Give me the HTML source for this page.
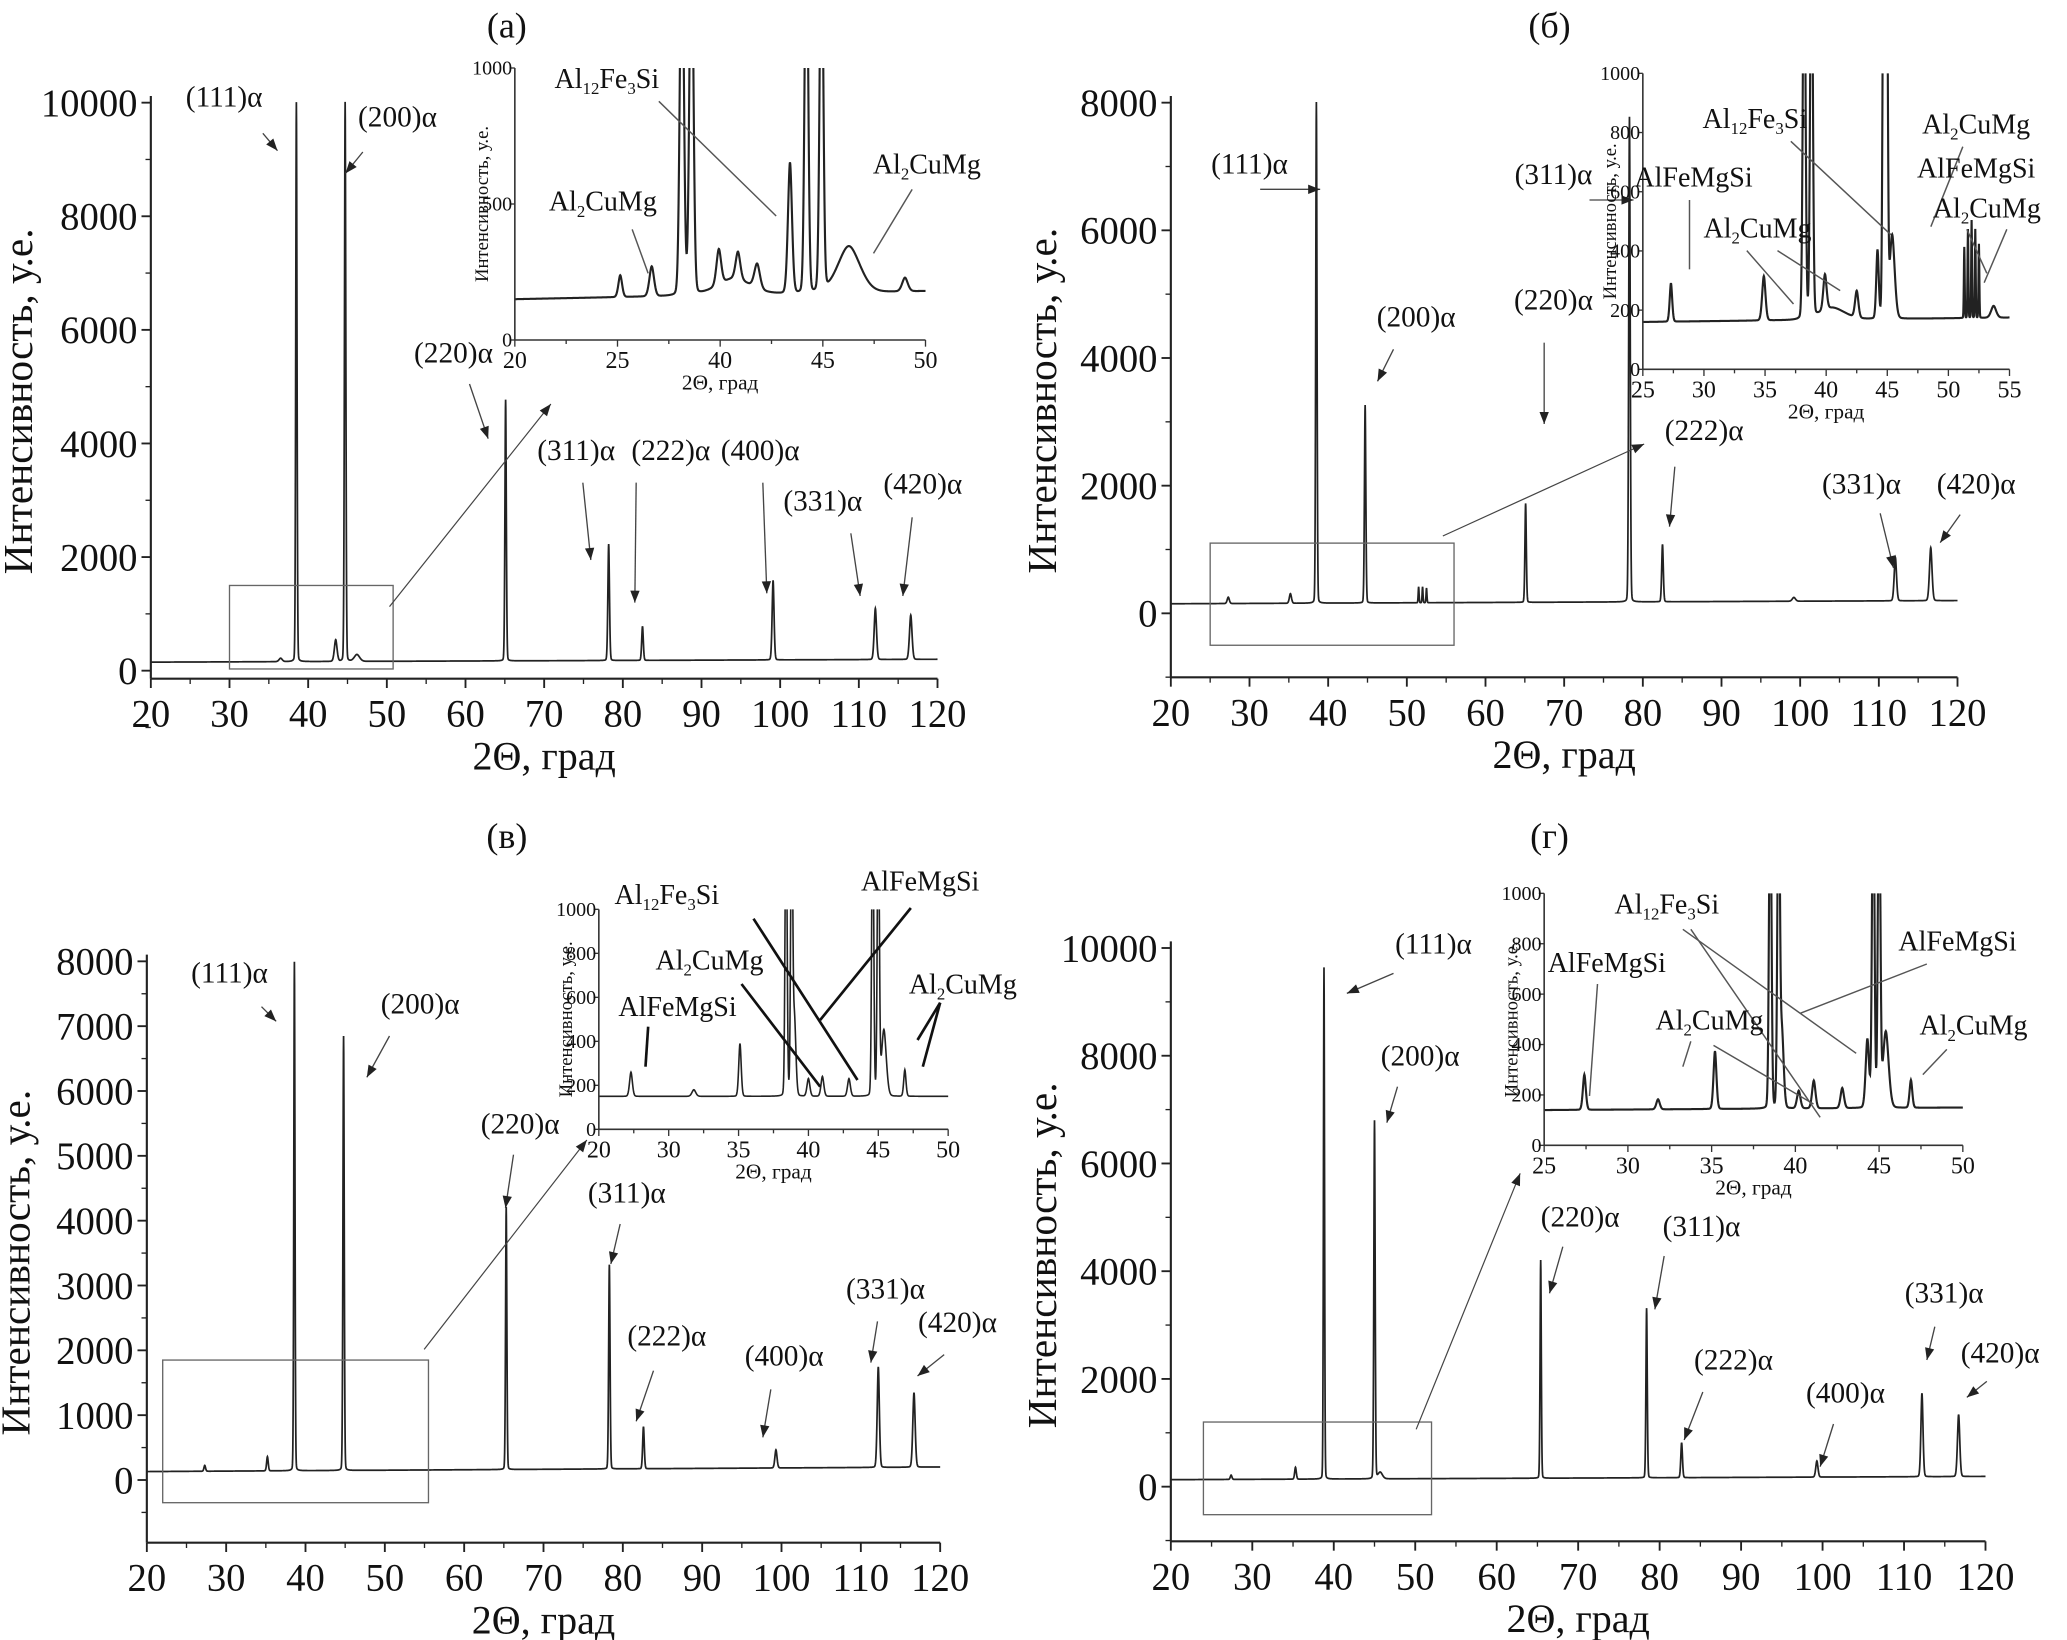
<!DOCTYPE html>
<html><head><meta charset="utf-8"><style>
html,body{margin:0;padding:0;background:#fff;}
svg{display:block;}
text{font-family:"Liberation Serif","DejaVu Serif","Times New Roman",serif;fill:#111;}
</style></head><body>
<svg id="fig" xmlns="http://www.w3.org/2000/svg" width="2067" height="1640" viewBox="0 0 1550 1230">
<rect x="0" y="0" width="1550" height="1230" fill="#fff"/>
</svg>
<script>
// ---------- data ----------
const peaksA = [[38.5,9850,0.12],[44.7,9850,0.13],[43.5,380,0.25],[65.1,4600,0.13],[78.2,2050,0.15],[82.5,600,0.15],[99.1,1400,0.18],[112.1,900,0.22],[116.6,780,0.24],[36.5,60,0.3],[46.2,120,0.5]];
const peaksB = [[27.3,100,0.2],[35.2,150,0.2],[38.5,7850,0.12],[44.7,3100,0.13],[51.5,250,0.08],[52.0,250,0.08],[52.5,230,0.08],[65.1,1550,0.13],[78.3,7600,0.14],[82.5,900,0.15],[99.2,60,0.3],[112.1,680,0.22],[116.6,830,0.24]];
const peaksC = [[27.3,90,0.15],[35.2,220,0.15],[38.6,7850,0.11],[44.8,6700,0.12],[65.3,4050,0.12],[78.3,3150,0.13],[82.6,650,0.15],[99.3,280,0.2],[112.2,1550,0.2],[116.7,1150,0.22]];
const peaksD = [[27.4,80,0.15],[35.3,220,0.15],[38.8,9500,0.1],[45.0,6650,0.12],[45.7,120,0.4],[65.4,4050,0.11],[78.4,3150,0.12],[82.7,650,0.15],[99.3,300,0.2],[112.2,1550,0.19],[116.7,1150,0.21]];
const baseA = [150,200]; const baseB=[150,200]; const baseC=[130,200]; const baseD=[130,190];
const insetPeaksA = [[27.7,80,0.2],[30.0,110,0.25],[32.2,1500,0.2],[32.9,1500,0.2],[34.9,130,0.25],[36.3,100,0.25],[37.7,90,0.3],[36.0,60,1.8],[40.1,480,0.22],[41.3,1500,0.18],[42.4,1500,0.18],[44.4,170,1.2],[48.5,50,0.3]];
const insetBaseA = [150,180];
const insetPeaksB = [[27.3,130,0.15],[34.9,150,0.2],[38.2,1500,0.15],[38.8,1500,0.15],[39.9,120,0.2],[42.5,90,0.2],[40.5,40,1.5],[44.2,230,0.15],[44.7,1500,0.12],[44.95,1500,0.12],[45.4,280,0.3],[51.3,240,0.05],[51.6,300,0.05],[51.9,330,0.05],[52.2,300,0.05],[52.5,250,0.05],[53.7,40,0.3]];
const insetBaseB = [160,175];
const insetPeaksC = [[27.3,110,0.15],[31.8,30,0.2],[35.1,240,0.13],[38.4,1500,0.1],[38.8,1500,0.1],[39.0,350,0.15],[40.0,80,0.15],[41.0,90,0.15],[42.9,80,0.15],[44.6,1500,0.1],[45.0,1500,0.1],[45.4,300,0.25],[46.9,120,0.12]];
const insetBaseC = [150,150];
const insetPeaksD = [[27.4,140,0.13],[31.8,40,0.15],[35.2,230,0.13],[38.5,1500,0.1],[39.0,1500,0.1],[39.2,300,0.15],[40.2,70,0.15],[41.1,110,0.15],[42.8,80,0.15],[44.3,270,0.15],[44.65,1500,0.1],[45.0,1500,0.1],[45.4,300,0.25],[46.9,110,0.12]];
const insetBaseD = [140,150];
const xTicksMain = ["20","30","40","50","60","70","80","90","100","110","120"];
const yTicksA = ["0","2000","4000","6000","8000","10000"];
const yTicksB = ["0","2000","4000","6000","8000"];
const yTicksC = ["0","1000","2000","3000","4000","5000","6000","7000","8000"];
const yTicksD = ["0","2000","4000","6000","8000","10000"];
const insetXA = ["20","25","40","45","50"];
const insetXB = ["25","30","35","40","45","50","55"];
const insetXC = ["20","30","35","40","45","50"];
const insetXD = ["25","30","35","40","45","50"];
const insetYA = ["0","500","1000"];
const insetYB = ["0","200","400","600","800","1000"];

// ---------- helpers ----------
const FF='Liberation Serif, DejaVu Serif, serif';
const NS="http://www.w3.org/2000/svg";
const fig=document.getElementById('fig');
function el(tag,attrs,parent){const e=document.createElementNS(NS,tag);for(const k in attrs)e.setAttribute(k,attrs[k]);(parent||fig).appendChild(e);return e;}
function scale(d0,d1,r0,r1){return v=>r0+(v-d0)/(d1-d0)*(r1-r0);}
function profile(peaks,base,x0,x1,step){const pts=[];for(let x=x0;x<=x1+1e-9;x+=step){let y=base[0]+(base[1]-base[0])*(x-x0)/(x1-x0);for(const p of peaks){const t=(x-p[0])/p[2];y+=p[1]*(0.85*Math.exp(-t*t)+0.15/(1+4*t*t));}pts.push([x,y]);}return pts;}
function txt(x,y,s,size,parent,anchor){const t=el('text',{x:x,y:y,'font-size':size,'text-anchor':anchor||'middle','font-family':FF},parent);t.textContent=s;return t;}
function phase(x,y,parts,size,parent){
 const t=el('text',{x:x,y:y,'font-size':size,'text-anchor':'middle','font-family':FF},parent);
 let sub=false;
 for(const p of parts){const ts=el('tspan',{},t);ts.textContent=p[0];
   if(p[1]){ts.setAttribute('font-size',size*0.6);if(!sub)ts.setAttribute('dy',size*0.22);sub=true;}
   else{if(sub)ts.setAttribute('dy',-size*0.22);sub=false;}}
 return t;}
const AL12=[["Al"],["12",1],["Fe"],["3",1],["Si"]];
const AL2=[["Al"],["2",1],["CuMg"]];
const AFMS=[["AlFeMgSi"]];
function arrow(x1,y1,x2,y2,parent,w){
 el('line',{x1:x1,y1:y1,x2:x2,y2:y2,stroke:'#444','stroke-width':w||1},parent);
 const a=Math.atan2(y2-y1,x2-x1),L=9,W=3.5;
 const p=[[x2,y2],[x2-L*Math.cos(a)+W*Math.sin(a),y2-L*Math.sin(a)-W*Math.cos(a)],[x2-L*Math.cos(a)-W*Math.sin(a),y2-L*Math.sin(a)+W*Math.cos(a)]];
 el('polygon',{points:p.map(q=>q.join(',')).join(' '),fill:'#222'},parent);}
function line(x1,y1,x2,y2,parent,w,c){el('line',{x1:x1,y1:y1,x2:x2,y2:y2,stroke:c||'#555','stroke-width':w||1},parent);}

function mainPanel(o){
 const g=el('g',{});
 
 
 const X=scale(20,120,o.x0,o.x1), Y=scale(0,o.ymax,o.y0,o.ytop);
 const pts=profile(o.peaks,o.base,20,120,0.02);
 const path=el('path',{d:'M'+pts.map(p=>X(p[0]).toFixed(2)+','+Y(p[1]).toFixed(2)).join('L'),fill:'none',stroke:'#222','stroke-width':1.3},g);
 
 
 const yb=o.ybot;
 const ax=el('g',{},g);
 
 
 el('line',{x1:o.x0,y1:yb,x2:o.x1,y2:yb,stroke:'#222','stroke-width':1.6},ax);
 el('line',{x1:o.x0,y1:yb,x2:o.x0,y2:Y(o.ymax)-5,stroke:'#222','stroke-width':1.6},ax);
 xTicksMain.forEach((s,i)=>{const v=+s,x=X(v);el('line',{x1:x,y1:yb,x2:x,y2:yb+7,stroke:'#222','stroke-width':1.4},ax);
   if(i<xTicksMain.length-1)el('line',{x1:X(v+5),y1:yb,x2:X(v+5),y2:yb+4,stroke:'#222','stroke-width':1},ax);
   txt(x,yb+36,s,29,ax);});
 o.yt.forEach((s,i)=>{const v=+s,y=Y(v);el('line',{x1:o.x0,y1:y,x2:o.x0-7,y2:y,stroke:'#222','stroke-width':1.4},ax);
   const st=(+o.yt[1]-+o.yt[0])/2; if(i<o.yt.length-1)el('line',{x1:o.x0,y1:Y(v+st),x2:o.x0-4,y2:Y(v+st),stroke:'#222','stroke-width':1},ax);
   txt(o.x0-10,y+10,s,29,ax,'end');});
 if(o.ymin<0){el('line',{x1:o.x0,y1:Y(-o.yt[1]/2),x2:o.x0-4,y2:Y(-o.yt[1]/2),stroke:'#222'},ax);}
 const xt=txt((o.x0+o.x1)/2,yb+68,'2Θ, град',30,g);
 
 
 const yt=el('text',{x:0,y:0,'font-size':31,'text-anchor':'middle','font-family':FF,transform:`translate(${o.ytx},${(Y(o.ymax)+yb)/2+8}) rotate(-90)`},g);
 yt.textContent='Интенсивность, у.е.';
 
 
 const bx=el('rect',{x:X(o.box[0]),y:Y(o.box[3]),width:X(o.box[1])-X(o.box[0]),height:Y(o.box[2])-Y(o.box[3]),fill:'none',stroke:'#666','stroke-width':1},g);
 
 
 arrow(o.conn[0],o.conn[1],o.conn[2],o.conn[3],g,0.9);
 const tl=txt(o.title[0],o.title[1],o.title[2],27,g);
 
 
 o.labels.forEach(l=>{const t=txt(l[0],l[1],l[2],22,g);
   
   
   arrow(l[3],l[4],l[5],l[6],g,1);});
 return g;}

function inset(o){
 const g=el('g',{});
 
 
 const X=scale(o.xd[0],o.xd[1],o.x0,o.x1), Y=scale(0,1000,o.y0,o.y1);
 const cid='clip'+o.name;
 const cp=el('clipPath',{id:cid},g);
 el('rect',{x:o.x0,y:o.y1,width:o.x1-o.x0+4,height:o.y0-o.y1},cp);
 const pts=profile(o.peaks,o.base,o.xd[0],o.xd[1],0.02);
 const p=el('path',{d:'M'+pts.map(q=>X(q[0]).toFixed(2)+','+Y(Math.min(q[1],1100)).toFixed(2)).join('L'),fill:'none',stroke:'#222','stroke-width':o.sw||1.6,'clip-path':`url(#${cid})`},g);
 
 
 el('line',{x1:o.x0,y1:o.y0,x2:o.x1,y2:o.y0,stroke:'#333','stroke-width':1.2},g);
 el('line',{x1:o.x0,y1:o.y0,x2:o.x0,y2:o.y1,stroke:'#333','stroke-width':1.2},g);
 const n=o.xl.length;
 o.xl.forEach((s,i)=>{const x=o.x0+(o.x1-o.x0)*i/(n-1);el('line',{x1:x,y1:o.y0,x2:x,y2:o.y0+5,stroke:'#333'},g);
   if(i<n-1){const xm=o.x0+(o.x1-o.x0)*(i+0.5)/(n-1);el('line',{x1:xm,y1:o.y0,x2:xm,y2:o.y0+3,stroke:'#333'},g);}
   txt(x,o.y0+21,s,18,g);});
 o.yl.forEach(s=>{const y=Y(+s);el('line',{x1:o.x0,y1:y,x2:o.x0-4,y2:y,stroke:'#333'},g);txt(o.x0-2,y+5,s,15,g,'end');});
 txt((o.x0+o.x1)/2,o.y0+37,'2Θ, град',16,g);
 const yt=el('text',{x:0,y:0,'font-size':14,'text-anchor':'middle','font-family':FF,transform:`translate(${o.x0-20},${(o.y0+o.y1)/2}) rotate(-90)`},g);
 yt.textContent='Интенсивность, у.е.';
 o.labels.forEach(l=>{const t=phase(l[0],l[1],l[2],21,g);
   
   
   for(const ln of l[3]) line(ln[0],ln[1],ln[2],ln[3],g,o.lw||1.1,o.lc);});
}

// ---------- build ----------
mainPanel({name:'panel-a',x0:113,x1:703,y0:503,ytop:77,ymax:10000,ymin:-100,ybot:509,peaks:peaksA,base:baseA,yt:yTicksA,ytx:24,
 box:[30,50.8,30,1500],conn:[292,455,413,303],title:[380,28,'(а)'],
 labels:[[168,80,'(111)α',197,100,208,113],[298,95,'(200)α',272,114,259,130],[340,272,'(220)α',352,288,366,329],[432,345,'(311)α',437,362,443,420],[503,345,'(222)α',477,362,476,452],[570,345,'(400)α',572,362,575,445],[617,383,'(331)α',638,400,645,447],[692,370,'(420)α',684,388,677,447]]});
inset({name:'inset-a',x0:386,x1:694,y0:255,y1:51,xd:[20,50],xl:insetXA,yl:insetYA,peaks:insetPeaksA,base:insetBaseA,
 labels:[[455,66,AL12,[[494,76,582,162]]],[452,158,AL2,[[474,172,486,205]]],[695,130,AL2,[[684,142,655,190]]]]});

mainPanel({name:'panel-b',x0:878,x1:1468,y0:460,ytop:77,ymax:8000,ymin:-1000,ybot:508,peaks:peaksB,base:baseB,yt:yTicksB,ytx:792,
 box:[25,56,-500,1100],conn:[1082,402,1233,333],title:[1162,28,'(б)'],
 labels:[[937,130,'(111)α',945,142,990,142],[1062,245,'(200)α',1045,262,1033,286],[1165,232,'(220)α',1158,257,1158,318],[1165,138,'(311)α',1192,150,1225,150],[1278,330,'(222)α',1256,350,1252,395],[1396,370,'(331)α',1410,385,1420,426],[1482,370,'(420)α',1470,386,1455,407]]});
inset({name:'inset-b',x0:1232,x1:1507,y0:277,y1:55,xd:[25,55],xl:insetXB,yl:insetYB,peaks:insetPeaksB,base:insetBaseB,
 labels:[[1316,96,AL12,[[1343,106,1418,176]]],[1270,140,AFMS,[[1267,150,1267,202]]],[1318,178,AL2,[[1310,188,1345,228],[1333,188,1380,218]]],[1482,100,AL2,[[1472,110,1448,170]]],[1482,133,AFMS,[]],[1490,163,AL2,[[1475,172,1490,205],[1505,172,1488,212]]]]});

mainPanel({name:'panel-v',x0:110,x1:705,y0:1110,ytop:721,ymax:8000,ymin:-1000,ybot:1157,peaks:peaksC,base:baseC,yt:yTicksC,ytx:22,
 box:[22,55.5,-350,1850],conn:[318,1012,440,855],title:[380,636,'(в)'],
 labels:[[172,737,'(111)α',196,755,207,766],[315,760,'(200)α',292,777,275,808],[390,850,'(220)α',385,866,379,906],[470,902,'(311)α',465,918,458,948],[500,1009,'(222)α',490,1028,477,1066],[588,1024,'(400)α',578,1042,572,1078],[664,974,'(331)α',658,991,653,1022],[718,999,'(420)α',708,1016,688,1032]]});
inset({name:'inset-v',x0:449,x1:711,y0:847,y1:682,xd:[25,50],xl:insetXC,yl:insetYB,peaks:insetPeaksC,base:insetBaseC,sw:1.2,lw:2,lc:'#111',
 labels:[[500,678,AL12,[[565,689,643,810]]],[690,668,AFMS,[[683,681,615,765]]],[532,727,AL2,[[556,738,615,815]]],[508,762,AFMS,[[486,770,484,800]]],[722,745,AL2,[[705,752,688,780],[705,752,692,800]]]]});

mainPanel({name:'panel-g',x0:878,x1:1489,y0:1115,ytop:711,ymax:10000,ymin:-1000,ybot:1156,peaks:peaksD,base:baseD,yt:yTicksD,ytx:792,
 box:[24,52,-520,1200],conn:[1062,1072,1140,880],title:[1162,636,'(г)'],
 labels:[[1075,715,'(111)α',1045,730,1010,745],[1065,799,'(200)α',1048,815,1040,842],[1185,920,'(220)α',1172,935,1162,970],[1276,927,'(311)α',1248,942,1241,982],[1300,1027,'(222)α',1277,1044,1263,1080],[1384,1052,'(400)α',1375,1068,1365,1100],[1458,977,'(331)α',1451,995,1445,1020],[1500,1022,'(420)α',1490,1036,1475,1048]]});
inset({name:'inset-g',x0:1158,x1:1472,y0:859,y1:670,xd:[25,50],xl:insetXD,yl:insetYB,peaks:insetPeaksD,base:insetBaseD,
 labels:[[1250,685,AL12,[[1262,697,1392,790],[1268,697,1365,838]]],[1205,729,AFMS,[[1198,738,1192,822]]],[1282,772,AL2,[[1268,781,1262,800],[1285,784,1360,828]]],[1468,713,AFMS,[[1445,723,1350,760]]],[1480,776,AL2,[[1460,787,1442,806]]]]});
</script>
</body></html>
